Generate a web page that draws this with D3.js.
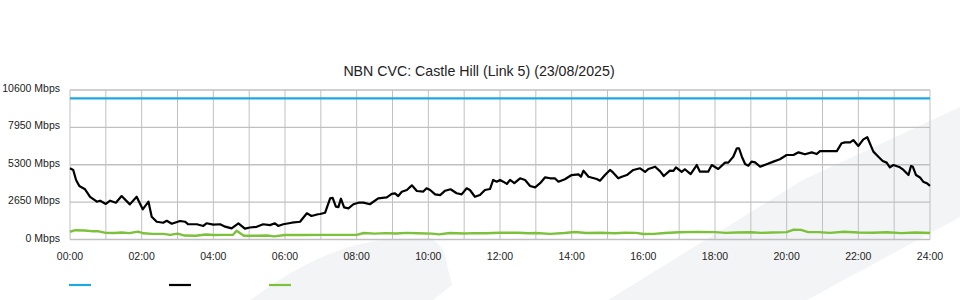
<!DOCTYPE html>
<html>
<head>
<meta charset="utf-8">
<script src="https://cdn.jsdelivr.net/npm/d3@7"></script>
<style>
  html, body { margin: 0; padding: 0; background: #fff; }
  svg { display: block; font-family: "Liberation Sans", Arial, sans-serif; }
</style>
</head>
<body>
<svg id="chart" width="960" height="300"></svg>
<script>
// ---- data ----
const title = "NBN CVC: Castle Hill (Link 5) (23/08/2025)";
const yTicks = [0, 2650, 5300, 7950, 10600];
const xTickHours = [0, 2, 4, 6, 8, 10, 12, 14, 16, 18, 20, 22, 24];
const xTickLabels = ["00:00","02:00","04:00","06:00","08:00","10:00","12:00","14:00","16:00","18:00","20:00","22:00","24:00"];

const capacityTimes = [0, 24];
const capacityValues = [10000, 10000];

const downTimes = [0,0.09,0.17,0.26,0.42,0.56,0.75,0.84,1.00,1.12,1.28,1.44,1.67,1.86,2.03,2.19,2.28,2.42,2.60,2.70,2.84,3.07,3.21,3.30,3.54,3.72,3.81,4.00,4.19,4.33,4.51,4.70,4.88,5.02,5.21,5.39,5.58,5.72,5.81,5.95,6.19,6.42,6.61,6.74,6.92,
  6.98,7.12,7.26,7.33,7.42,7.49,7.56,7.65,7.77,7.91,8.05,8.19,8.37,8.60,8.84,8.98,9.07,9.16,9.26,9.40,9.54,9.68,9.86,9.95,10.05,10.19,10.33,10.47,10.62,10.79,10.93,11.07,11.16,11.30,11.44,11.58,11.72,11.81,11.91,12.00,12.09,12.19,12.28,12.40,12.56,12.70,12.84,12.98,13.12,13.26,13.40,13.53,13.63,13.81,14.00,14.19,14.26,14.33,14.47,14.70,14.79,14.93,15.07,15.16,15.30,15.40,15.54,15.72,15.91,
  16.05,16.14,16.33,16.47,16.57,16.74,16.84,16.91,17.07,17.16,17.32,17.49,17.58,17.81,17.91,18.09,18.28,18.37,18.51,18.61,18.67,18.75,18.84,18.93,19.02,19.12,19.26,19.44,19.63,19.81,20.00,20.19,20.33,20.51,20.70,20.84,20.93,21.12,21.40,21.53,21.63,21.77,21.86,22.00,22.14,22.25,22.42,22.56,22.68,22.79,22.88,22.98,23.16,23.26,23.40,23.47,23.52,23.61,23.72,23.81,23.91,24.00];
const downValues = [5050,4930,4220,3790,3560,3030,2680,2750,2520,2750,2610,3080,2490,3030,2140,2680,1620,1260,1190,1330,1120,1310,1260,1080,1080,960,1150,1060,1080,910,790,1150,770,850,900,1080,1020,1150,960,1080,1190,1260,1860,1670,1790,
  1810,1900,2920,2960,2330,2300,2890,2280,2210,2500,2610,2610,2500,2920,2990,3230,3270,3080,3380,3510,3840,3440,3400,3630,3510,3200,3150,3460,3560,3280,3200,3630,3510,3030,3150,3510,3580,4220,4100,4220,4100,3940,4220,4000,4340,4220,3790,3700,3990,4410,4340,4340,4100,4270,4570,4620,4450,4880,4450,4290,4170,4570,4930,4740,4340,4450,4570,4930,5050,
  4790,5000,5160,4830,4500,4880,4860,5120,4790,4980,4640,5280,4810,4810,5280,5000,5450,5450,5870,6470,6470,5870,5350,5230,5520,5470,5160,5330,5520,5690,5990,5990,6180,6040,6180,6060,6270,6270,6270,6820,6890,6890,7050,6630,7100,7250,6230,5870,5570,5450,5120,5280,5120,4930,4570,5210,5160,4570,4400,4100,3990,3810];

const upTimes = [0,0.15,0.4,0.6,0.8,1.0,1.25,1.45,1.65,1.9,2.05,2.3,2.6,2.8,3.0,3.2,3.5,3.8,4.0,4.3,4.55,4.65,4.85,5.2,5.5,5.7,6.0,6.5,7.0,7.5,8.0,8.2,8.5,8.8,9.1,9.4,9.7,10.1,10.3,10.6,11.0,11.3,11.6,12.0,12.5,12.8,13.0,13.4,13.8,14.1,14.4,14.8,15.2,15.5,15.8,16.0,16.3,16.6,17.0,17.5,18.0,18.3,18.6,19.0,19.3,19.6,20.0,20.2,20.4,20.6,20.9,21.2,21.6,22.0,22.4,22.8,23.2,23.6,24.0];
const upValues = [550,660,640,590,580,470,460,500,450,560,440,400,400,330,420,280,270,350,320,330,340,620,270,270,280,220,320,320,330,330,330,460,420,450,430,470,440,420,360,460,430,450,440,480,480,440,460,400,460,530,460,480,440,480,470,390,400,460,510,540,520,470,500,510,470,500,520,700,680,520,520,470,550,500,480,510,450,500,460];

const seriesColors = ["#1ea7e1", "#000000", "#7cc13a"];

// ---- drawing ----
const svg = d3.select("#chart");
const plotLeft = 70, plotRight = 930, plotTop = 90, plotBottom = 239.5;

// watermark background shapes
svg.append("path")
  .attr("d", "M250,300 C285,275 330,245 390,239 L430,238 Q445,245 447,265 L452,285 L433,300 Z")
  .attr("fill", "#f3f4f6");
svg.append("path")
  .attr("d", "M608,300 L803,180 L960,107 L960,217 L807,300 Z")
  .attr("fill", "#f3f4f6");

const x = d3.scaleLinear().domain([0, 24]).range([plotLeft, plotRight]);
const y = d3.scaleLinear().domain([0, 10600]).range([plotBottom, plotTop]);

// vertical gridlines each hour
svg.append("g").selectAll("line")
  .data(d3.range(0, 25))
  .join("line")
  .attr("x1", d => x(d)).attr("x2", d => x(d))
  .attr("y1", plotTop).attr("y2", plotBottom)
  .attr("stroke", "#c0c0c0").attr("stroke-width", 1);

// horizontal gridlines
svg.append("g").selectAll("line")
  .data(yTicks)
  .join("line")
  .attr("x1", plotLeft).attr("x2", plotRight)
  .attr("y1", d => y(d)).attr("y2", d => y(d))
  .attr("stroke", "#c0c0c0").attr("stroke-width", 1.3);

// y labels
svg.append("g").selectAll("text")
  .data(yTicks)
  .join("text")
  .attr("x", 60).attr("y", d => y(d) + 2)
  .attr("text-anchor", "end")
  .attr("font-size", "10.5px")
  .attr("fill", "#222")
  .text(d => d + " Mbps");

// x labels
svg.append("g").selectAll("text")
  .data(xTickHours)
  .join("text")
  .attr("x", d => x(d)).attr("y", 260)
  .attr("text-anchor", "middle")
  .attr("font-size", "10.5px")
  .attr("fill", "#222")
  .text((d, i) => xTickLabels[i]);

// title
svg.append("text")
  .attr("x", 479).attr("y", 76)
  .attr("text-anchor", "middle")
  .attr("font-size", "14.2px")
  .attr("fill", "#222")
  .text(title);

const line = d3.line().x(d => x(d[0])).y(d => y(d[1]));

svg.append("path")
  .datum(capacityTimes.map((t, i) => [t, capacityValues[i]]))
  .attr("d", line).attr("fill", "none")
  .attr("stroke", seriesColors[0]).attr("stroke-width", 2.2);

svg.append("path")
  .datum(upTimes.map((t, i) => [t, upValues[i]]))
  .attr("d", line).attr("fill", "none")
  .attr("stroke", seriesColors[2]).attr("stroke-width", 2.4)
  .attr("stroke-linejoin", "round");

svg.append("path")
  .datum(downTimes.map((t, i) => [t, downValues[i]]))
  .attr("d", line).attr("fill", "none")
  .attr("stroke", seriesColors[1]).attr("stroke-width", 2.2)
  .attr("stroke-linejoin", "round");

// legend swatches (no labels in reference)
svg.append("g").selectAll("line")
  .data(seriesColors)
  .join("line")
  .attr("x1", (d, i) => 69 + i * 100).attr("x2", (d, i) => 91 + i * 100)
  .attr("y1", 285).attr("y2", 285)
  .attr("stroke", d => d).attr("stroke-width", 2.2);
</script>
</body>
</html>
